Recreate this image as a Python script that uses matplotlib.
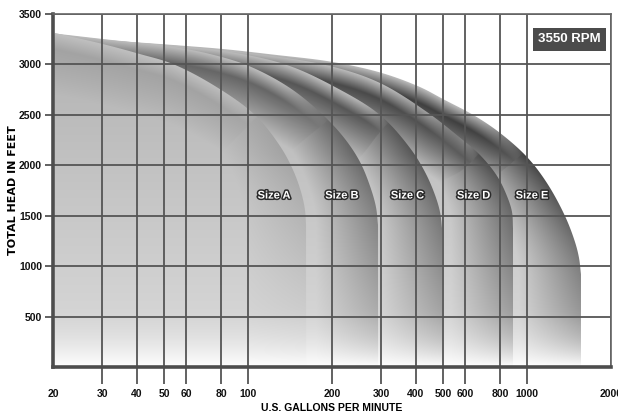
import numpy as np
import matplotlib
matplotlib.use("Agg")
import matplotlib.pyplot as plt
import matplotlib.patheffects as pe
from matplotlib.patches import Polygon
from matplotlib.ticker import NullLocator

# pump coverage curves: flow in US gpm, total head in feet
size_names = ["Size A", "Size B", "Size C", "Size D", "Size E"]

flow_a = [20.3, 30.2, 41.0, 53.8, 76.1, 105.9, 130.2, 145.0, 154.9, 160.0, 161.4]
head_a = [3312, 3202, 3103, 3004, 2786, 2499, 2191, 1953, 1735, 1557, 1408]

flow_b = [20.3, 30.2, 53.8, 73.1, 100.8, 141.4, 185.6, 222.6, 252.0, 273.6, 287.5, 292.3]
head_b = [3307, 3252, 3173, 3103, 2984, 2766, 2499, 2261, 2033, 1795, 1586, 1408]

flow_c = [20.3, 30.2, 53.8, 86.2, 137.9, 205.0, 297.2, 380.8, 430.9, 468.0, 487.6, 495.7]
head_c = [3302, 3247, 3183, 3123, 2994, 2776, 2499, 2171, 1933, 1705, 1537, 1378]

flow_d = [20.3, 30.2, 53.8, 101.6, 196.7, 297.2, 438.0, 565.6, 678.4, 780.8, 847.6, 883.5, 890.7]
head_d = [3297, 3242, 3188, 3113, 2984, 2816, 2528, 2290, 2102, 1894, 1695, 1537, 1378]

flow_e = [20.3, 30.2, 53.8, 81.3, 122.9, 201.7, 302.2, 413.5, 499.9, 651.0, 800.7, 1000.0,
          1179.0, 1368.0, 1486.0, 1536.0, 1561.0]
head_e = [3272, 3242, 3193, 3153, 3098, 3024, 2915, 2776, 2657, 2489, 2320, 2082,
          1824, 1497, 1239, 1081, 920]

label_flow = [124, 217, 373, 644, 1042]
label_head = [1700, 1700, 1700, 1700, 1700]

x_ticks = [20, 30, 40, 50, 60, 80, 100, 200, 300, 400, 500, 600, 800, 1000, 2000]
y_ticks = [500, 1000, 1500, 2000, 2500, 3000, 3500]
rpm_text = "3550 RPM"

curves = [(flow_a, head_a), (flow_b, head_b), (flow_c, head_c),
          (flow_d, head_d), (flow_e, head_e)]

# shading: darkest value (0 white, 1 black) of each shape, high up
edge_dark = [0.36, 0.60, 0.66, 0.71, 0.75]
rim_dark = 0.24      # light rim along upward-facing edges
peak_px = 17         # depth of the darkest band below a top edge
decay_px = 45
side_px = 62         # width of the shadow along steep / vertical edges

grid_col = "#555555"
tick_font = ["Liberation Sans", "DejaVu Sans"]


def smooth_outline(flow, head, n=12):
    # centripetal catmull-rom through the read points, in roughly pixel-like units
    pts = np.column_stack([np.log10(flow) * 2.79, np.array(head) / 1000.0])
    pts = np.vstack([2 * pts[0] - pts[1], pts, 2 * pts[-1] - pts[-2]])
    out = []
    for k in range(1, len(pts) - 2):
        p0, p1, p2, p3 = pts[k - 1], pts[k], pts[k + 1], pts[k + 2]
        t0 = 0.0
        t1 = t0 + np.hypot(*(p1 - p0)) ** 0.5
        t2 = t1 + np.hypot(*(p2 - p1)) ** 0.5
        t3 = t2 + np.hypot(*(p3 - p2)) ** 0.5
        t = np.linspace(t1, t2, n, endpoint=False)[:, None]
        a1 = (t1 - t) / (t1 - t0) * p0 + (t - t0) / (t1 - t0) * p1
        a2 = (t2 - t) / (t2 - t1) * p1 + (t - t1) / (t2 - t1) * p2
        a3 = (t3 - t) / (t3 - t2) * p2 + (t - t2) / (t3 - t2) * p3
        b1 = (t2 - t) / (t2 - t0) * a1 + (t - t0) / (t2 - t0) * a2
        b2 = (t3 - t) / (t3 - t1) * a2 + (t - t1) / (t3 - t1) * a3
        out.append((t2 - t) / (t2 - t1) * b1 + (t - t1) / (t2 - t1) * b2)
    out.append(pts[-2][None, :])
    out = np.vstack(out)
    lq = np.maximum.accumulate(out[:, 0] / 2.79)
    hd = np.minimum.accumulate(out[:, 1] * 1000.0)
    return lq, hd


def facing(s):
    # 1 for a flat (upward-facing) edge, 0 for a steep one
    u = np.clip((s - 0.5) / 0.6, 0, 1)
    return 1 - u * u * (3 - 2 * u)


fig = plt.figure(figsize=(6.18, 4.15), dpi=100)
ax = fig.add_axes([53 / 618, 1 - 367 / 415, 558 / 618, 353 / 415])
ax.set_xscale("log")
ax.set_xlim(20, 2000)
ax.set_ylim(0, 3500)

# pixel grid over the axes, mapped back to data coordinates
nx, ny = 1116, 706
U, V = np.meshgrid((np.arange(nx) + 0.5) / nx, (np.arange(ny) + 0.5) / ny)
disp = ax.transAxes.transform(np.column_stack([U.ravel(), V.ravel()]))
data = ax.transData.inverted().transform(disp)
Q = data[:, 0].reshape(ny, nx)
H = data[:, 1].reshape(ny, nx)
logQ = np.log10(Q)

p0 = ax.transData.transform((100, 0))
ppf = (ax.transData.transform((100, 1000)) - p0)[1] / 1000.0   # pixels per foot
ppd = (ax.transData.transform((1000, 0)) - p0)[0]              # pixels per decade

fade = 1 - (1 - np.clip(H / 600.0, 0, 1)) ** 2
lift = 0.5 + 0.5 * np.clip((H - 400) / 1700.0, 0, 1)
inner = 0.14 + 0.15 * np.clip(H / 3000.0, 0, 1)

# back to front: Size E first, Size A last
for i in range(len(curves) - 1, -1, -1):
    flow, head = curves[i]
    lq, hd = smooth_outline(flow, head)
    top = np.interp(logQ, lq, hd)
    x_edge = np.interp(H, hd[::-1], lq[::-1])
    dy = (top - H) * ppf
    dx = (x_edge - logQ) * ppd
    d = np.clip(np.minimum(dx, dy), 0, None)

    # local steepness of the outline, in pixel units
    s_seg = (-np.diff(hd) * ppf) / np.maximum(np.diff(lq) * ppd, 1e-6)
    lq_mid = 0.5 * (lq[:-1] + lq[1:])
    hd_mid = 0.5 * (hd[:-1] + hd[1:])
    s_top = np.interp(logQ, lq_mid, s_seg)
    s_side = np.interp(H, hd_mid[::-1], s_seg[::-1], left=1e3)
    f = np.where(dy < dx, facing(s_top), facing(s_side))

    peak = np.maximum(edge_dark[i] * lift, inner)
    top_prof = np.where(d < peak_px,
                        rim_dark + (peak - rim_dark) * d / peak_px,
                        peak + (inner - peak) * np.clip((d - peak_px) / decay_px, 0, 1))
    side_prof = peak + (inner - peak) * np.clip(d / side_px, 0, 1)
    dark = f * top_prof + (1 - f) * side_prof
    gray = 1 - dark * fade
    img = np.dstack([gray, gray, gray])

    verts = list(zip(10 ** lq, hd)) + [(10 ** lq[-1], 0), (10 ** lq[0], 0)]
    poly = Polygon(verts, closed=True, transform=ax.transData,
                   facecolor="none", edgecolor="none")
    ax.add_patch(poly)
    im = ax.imshow(img, origin="lower", extent=(0, 1, 0, 1), transform=ax.transAxes,
                   aspect="auto", interpolation="antialiased", zorder=0.5)
    im.set_clip_path(poly)

ax.set_xscale("log")
ax.set_xlim(20, 2000)
ax.set_ylim(0, 3500)

for name, fq, hq in zip(size_names, label_flow, label_head):
    ax.text(fq, hq, name, ha="center", va="center", color="white",
            fontsize=8, fontweight="bold", family=tick_font, zorder=5,
            path_effects=[pe.withStroke(linewidth=2.2, foreground="#2b2b2b")])

ax.text(0.925, 0.928, rpm_text, transform=ax.transAxes, ha="center", va="center",
        color="white", fontsize=9.5, fontweight="bold", family=tick_font, zorder=6,
        bbox=dict(boxstyle="square,pad=0.4", facecolor="#4b4b4b", edgecolor="none"))

# axes, ticks and grid
ax.xaxis.set_minor_locator(NullLocator())
ax.set_xticks(x_ticks)
ax.set_xticklabels([str(v) for v in x_ticks])
ax.set_yticks(y_ticks)
ax.set_yticklabels([str(v) for v in y_ticks])
ax.grid(True, which="major", color=grid_col, linewidth=1.3)

ax.tick_params(axis="x", length=12.5, width=1.3, color=grid_col, pad=3)
ax.tick_params(axis="y", length=6, width=1.3, color=grid_col, pad=2)
for lab in ax.get_xticklabels() + ax.get_yticklabels():
    lab.set_fontsize(7.5)
    lab.set_fontweight("bold")
    lab.set_family(tick_font)
    lab.set_color("#111111")

xt = ax.xaxis.get_major_ticks()
xt[0].tick1line.set_visible(False)
xt[-1].tick1line.set_visible(False)

for side in ["left", "bottom"]:
    ax.spines[side].set_linewidth(2.6)
    ax.spines[side].set_color("#4d4d4d")
for side in ["top", "right"]:
    ax.spines[side].set_linewidth(1.2)
    ax.spines[side].set_color("#666666")

ax.set_xlabel("U.S. GALLONS PER MINUTE", fontsize=7.5, fontweight="bold",
              family=["Liberation Sans Narrow", "Liberation Sans", "DejaVu Sans"])
ax.xaxis.set_label_coords(0.5, -0.102)
ax.set_ylabel("TOTAL HEAD IN FEET", fontsize=8, fontweight="bold", family="DejaVu Sans")
ax.yaxis.set_label_coords(-0.062, 0.5)

fig.savefig("out.png", dpi=100)
